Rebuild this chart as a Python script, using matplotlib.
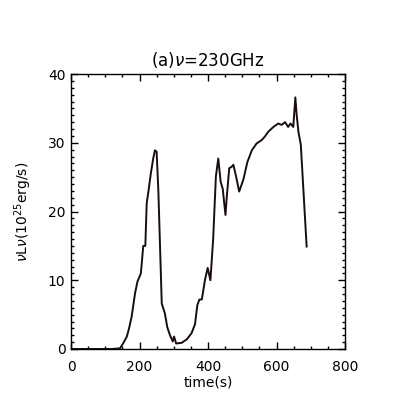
import matplotlib
matplotlib.use("Agg")
import matplotlib.pyplot as plt
from matplotlib.ticker import MultipleLocator

time_s = [0, 60, 120, 143, 152, 163, 170, 177, 187, 194, 204, 211, 217, 221, 226,
          233, 240, 245, 250, 255, 265, 274, 281, 289, 297, 301, 307, 323, 338,
          352, 362, 369, 375, 382, 391, 399, 407, 415, 423, 430, 437, 443, 451, 455,
          462, 469, 474, 482, 491, 503, 515, 528, 542, 557, 566, 576, 591, 605, 615,
          625, 634, 641, 649, 655, 659, 664, 671, 688]
nuLnu = [0, 0, 0, 0.1, 0.8, 1.8, 3.1, 4.7, 8.1, 9.8, 11.0, 15.0, 15.0, 21.2, 22.9,
         25.5, 27.7, 28.9, 28.7, 23.1, 6.6, 5.2, 3.2, 2.0, 1.1, 1.8, 0.8, 0.9, 1.4,
         2.3, 3.6, 6.4, 7.2, 7.2, 10.0, 11.8, 10.0, 15.9, 25.1, 27.7, 24.3, 23.3, 19.5, 22.2,
         26.3, 26.5, 26.8, 25.1, 22.9, 24.6, 27.2, 28.9, 29.9, 30.4, 30.9, 31.6, 32.3, 32.8, 32.6,
         33.0, 32.3, 32.8, 32.3, 36.6, 34.0, 31.6, 29.7, 14.9]

fig = plt.figure(figsize=(3.93, 3.93), dpi=100)
ax = fig.add_axes([71/393, 44/393, 274/393, 275/393])
ax.plot(time_s, nuLnu, color="#1a0d0d", lw=1.4)
ax.set_xlim(0, 800)
ax.set_ylim(0, 40)
ax.xaxis.set_major_locator(MultipleLocator(200))
ax.xaxis.set_minor_locator(MultipleLocator(50))
ax.yaxis.set_major_locator(MultipleLocator(10))
ax.yaxis.set_minor_locator(MultipleLocator(1))
ax.tick_params(which="both", direction="in", top=True, right=True, labelsize=10)
ax.tick_params(which="major", length=5, width=1)
ax.tick_params(which="minor", length=2.5, width=1)
ax.tick_params(axis="x", pad=8)
ax.tick_params(axis="y", pad=4)
for s in ax.spines.values():
    s.set_linewidth(1)
ax.set_title(r"(a)$\nu$=230GHz", fontsize=12, pad=6)
ax.set_xlabel("time(s)", fontsize=10, labelpad=1)
ax.set_ylabel(r"$\nu$L$\nu$(10$^{25}$erg/s)", fontsize=10, labelpad=10)
fig.savefig("out.png", dpi=100)
